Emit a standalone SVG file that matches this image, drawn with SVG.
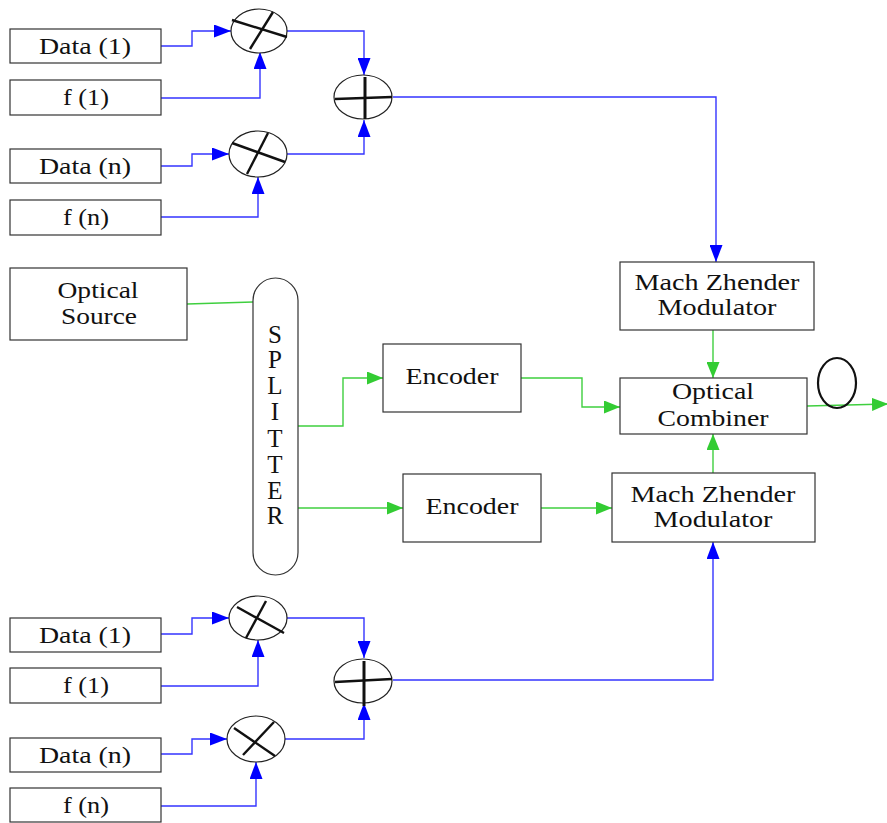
<svg xmlns="http://www.w3.org/2000/svg" width="887" height="823" viewBox="0 0 887 823">
  <style>
    .box { fill: #fff; stroke: #333; stroke-width: 1.2; }
    .lbl { font-family: "Liberation Serif", "Times New Roman", serif; font-size: 24px; fill: #111; text-anchor: middle; }
    .sp { font-size: 25px; }
    .op { fill: #fff; stroke: #222; stroke-width: 1.2; }
    .bar { stroke: #111; stroke-width: 2.4; stroke-linecap: butt; }
    .blue { fill: none; stroke: #3535ff; stroke-width: 1.4; }
    .green { fill: none; stroke: #3fcf3f; stroke-width: 1.4; }
  </style>
  <defs>
    <marker id="ab" markerUnits="userSpaceOnUse" markerWidth="17" markerHeight="13" refX="17" refY="6.5" orient="auto">
      <path d="M0,0 L17,6.5 L0,13 z" fill="#0000ff"/>
    </marker>
    <marker id="ag" markerUnits="userSpaceOnUse" markerWidth="16" markerHeight="13" refX="16" refY="6.5" orient="auto">
      <path d="M0,0 L16,6.5 L0,13 z" fill="#33cc33"/>
    </marker>
  </defs>

  <!-- signal connectors -->
  <g id="connectors">
    <!-- upper baseband branch -->
    <path class="blue" d="M161,46 H192 V31 H231" marker-end="url(#ab)"/>
    <path class="blue" d="M161,98 H260 V52" marker-end="url(#ab)"/>
    <path class="blue" d="M161,166 H192 V154 H229" marker-end="url(#ab)"/>
    <path class="blue" d="M161,217 H258 V177" marker-end="url(#ab)"/>
    <path class="blue" d="M287,31 H364 V75" marker-end="url(#ab)"/>
    <path class="blue" d="M287,154 H364 V120" marker-end="url(#ab)"/>
    <path class="blue" d="M393,97 H716 V262" marker-end="url(#ab)"/>
    <!-- lower baseband branch -->
    <path class="blue" d="M161,634 H192 V618 H229" marker-end="url(#ab)"/>
    <path class="blue" d="M161,686 H258 V640" marker-end="url(#ab)"/>
    <path class="blue" d="M161,754 H192 V739 H227" marker-end="url(#ab)"/>
    <path class="blue" d="M161,806 H256 V762" marker-end="url(#ab)"/>
    <path class="blue" d="M287,618 H364 V658" marker-end="url(#ab)"/>
    <path class="blue" d="M285,739 H364 V703" marker-end="url(#ab)"/>
    <path class="blue" d="M393,680 H713 V542" marker-end="url(#ab)"/>
    <!-- optical path -->
    <path class="green" d="M187,304 L253,302"/>
    <path class="green" d="M298,426 H343 V378 H383" marker-end="url(#ag)"/>
    <path class="green" d="M521,378 H582 V407 H620" marker-end="url(#ag)"/>
    <path class="green" d="M298,508 H403" marker-end="url(#ag)"/>
    <path class="green" d="M541,508 H612" marker-end="url(#ag)"/>
    <path class="green" d="M713,330 V378" marker-end="url(#ag)"/>
    <path class="green" d="M713,473 V434" marker-end="url(#ag)"/>
    <path class="green" d="M807,406 L888,404" marker-end="url(#ag)"/>
  </g>

  <!-- upper inputs -->
  <g id="data1-top"><rect class="box" x="10" y="29" width="151" height="34"/><text class="lbl" x="85" y="54" textLength="92" lengthAdjust="spacingAndGlyphs">Data (1)</text></g>
  <g id="f1-top"><rect class="box" x="10" y="80" width="151" height="35"/><text class="lbl" x="86" y="105" textLength="46" lengthAdjust="spacingAndGlyphs">f (1)</text></g>
  <g id="datan-top"><rect class="box" x="10" y="149" width="151" height="34"/><text class="lbl" x="85" y="174" textLength="92" lengthAdjust="spacingAndGlyphs">Data (n)</text></g>
  <g id="fn-top"><rect class="box" x="10" y="200" width="151" height="35"/><text class="lbl" x="86" y="225" textLength="46" lengthAdjust="spacingAndGlyphs">f (n)</text></g>

  <!-- upper mixers and summer -->
  <g id="mix1-top"><ellipse class="op" cx="259" cy="31" rx="28" ry="22"/><line class="bar" x1="232" y1="20" x2="287" y2="37"/><line class="bar" x1="273" y1="12" x2="250" y2="49"/></g>
  <g id="mixn-top"><ellipse class="op" cx="258" cy="154" rx="29" ry="23"/><line class="bar" x1="232" y1="143" x2="285" y2="162"/><line class="bar" x1="268" y1="133" x2="247" y2="174"/></g>
  <g id="sum-top"><ellipse class="op" cx="363" cy="97" rx="29" ry="22"/><line class="bar" x1="335" y1="99" x2="392" y2="97"/><line class="bar" x1="365" y1="77" x2="365" y2="119" style="stroke-width:3"/></g>

  <!-- optical source and splitter -->
  <g id="optical-source"><rect class="box" x="10" y="268" width="177" height="72"/><text class="lbl" x="98" y="298" textLength="81" lengthAdjust="spacingAndGlyphs">Optical</text><text class="lbl" x="99" y="324" textLength="76" lengthAdjust="spacingAndGlyphs">Source</text></g>
  <g id="splitter">
    <rect class="box" x="253" y="278" width="45" height="297" rx="22.5" ry="22.5"/>
    <text class="lbl sp" x="275" y="343">S</text>
    <text class="lbl sp" x="275" y="368">P</text>
    <text class="lbl sp" x="275" y="394">L</text>
    <text class="lbl sp" x="275" y="420">I</text>
    <text class="lbl sp" x="275" y="447">T</text>
    <text class="lbl sp" x="275" y="473">T</text>
    <text class="lbl sp" x="275" y="499">E</text>
    <text class="lbl sp" x="275" y="524">R</text>
  </g>

  <!-- encoders -->
  <g id="encoder-1"><rect class="box" x="383" y="344" width="138" height="68"/><text class="lbl" x="452" y="384" textLength="93" lengthAdjust="spacingAndGlyphs">Encoder</text></g>
  <g id="encoder-2"><rect class="box" x="403" y="474" width="138" height="68"/><text class="lbl" x="472" y="514" textLength="93" lengthAdjust="spacingAndGlyphs">Encoder</text></g>

  <!-- modulators and combiner -->
  <g id="mzm-top"><rect class="box" x="620" y="262" width="194" height="68"/><text class="lbl" x="717" y="290" textLength="165" lengthAdjust="spacingAndGlyphs">Mach Zhender</text><text class="lbl" x="717" y="315" textLength="119" lengthAdjust="spacingAndGlyphs">Modulator</text></g>
  <g id="combiner"><rect class="box" x="620" y="378" width="187" height="56"/><text class="lbl" x="713" y="399" textLength="82" lengthAdjust="spacingAndGlyphs">Optical</text><text class="lbl" x="713" y="426" textLength="111" lengthAdjust="spacingAndGlyphs">Combiner</text></g>
  <g id="mzm-bottom"><rect class="box" x="612" y="473" width="203" height="69"/><text class="lbl" x="713" y="502" textLength="165" lengthAdjust="spacingAndGlyphs">Mach Zhender</text><text class="lbl" x="713" y="527" textLength="119" lengthAdjust="spacingAndGlyphs">Modulator</text></g>
  <g id="fiber-loop"><ellipse cx="837" cy="383" rx="19" ry="25" fill="none" stroke="#111" stroke-width="2.2"/></g>

  <!-- lower inputs -->
  <g id="data1-bottom"><rect class="box" x="10" y="618" width="151" height="34"/><text class="lbl" x="85" y="643" textLength="92" lengthAdjust="spacingAndGlyphs">Data (1)</text></g>
  <g id="f1-bottom"><rect class="box" x="10" y="668" width="151" height="35"/><text class="lbl" x="86" y="693" textLength="46" lengthAdjust="spacingAndGlyphs">f (1)</text></g>
  <g id="datan-bottom"><rect class="box" x="10" y="738" width="151" height="34"/><text class="lbl" x="85" y="763" textLength="92" lengthAdjust="spacingAndGlyphs">Data (n)</text></g>
  <g id="fn-bottom"><rect class="box" x="10" y="788" width="151" height="34"/><text class="lbl" x="86" y="813" textLength="46" lengthAdjust="spacingAndGlyphs">f (n)</text></g>

  <!-- lower mixers and summer -->
  <g id="mix1-bottom"><ellipse class="op" cx="258" cy="618" rx="29" ry="22"/><line class="bar" x1="237" y1="607" x2="284" y2="633"/><line class="bar" x1="266" y1="601" x2="246" y2="638"/></g>
  <g id="mixn-bottom"><ellipse class="op" cx="256" cy="739" rx="29" ry="23"/><line class="bar" x1="234" y1="728" x2="275" y2="756"/><line class="bar" x1="274" y1="722" x2="243" y2="755"/></g>
  <g id="sum-bottom"><ellipse class="op" cx="363" cy="681" rx="29" ry="22"/><line class="bar" x1="335" y1="682" x2="392" y2="679"/><line class="bar" x1="364" y1="661" x2="364" y2="706" style="stroke-width:3"/></g>
</svg>
